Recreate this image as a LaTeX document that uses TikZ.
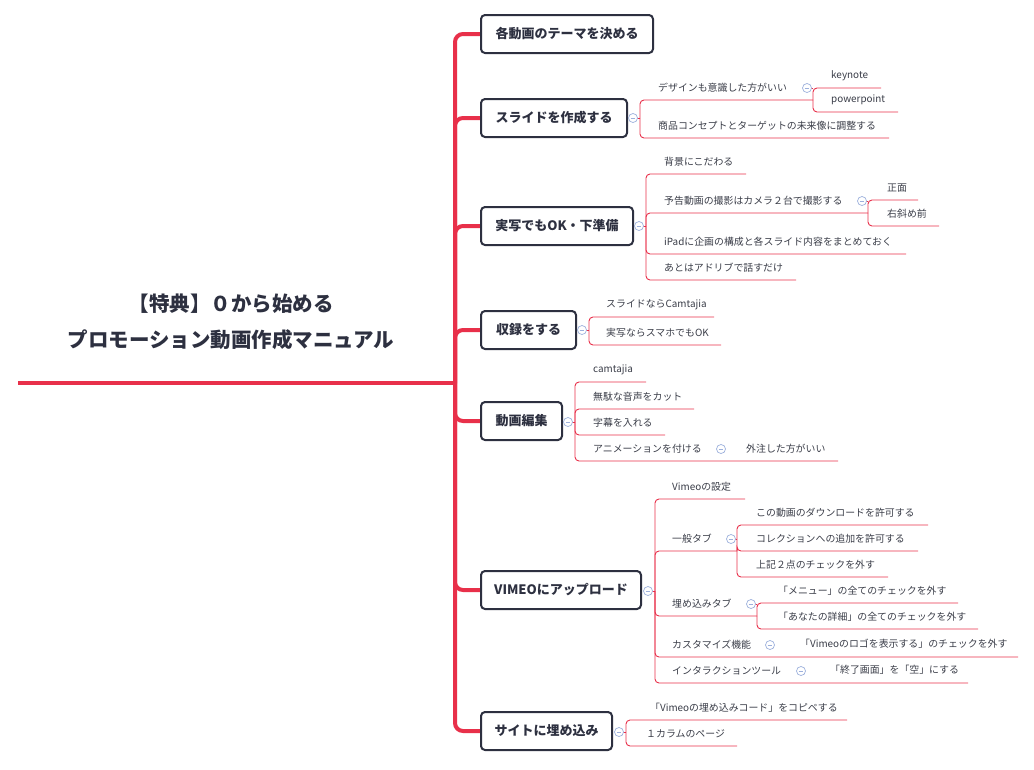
\documentclass[tikz,border=0pt]{standalone}
\usepackage{fontspec}
\setmainfont{Noto Sans CJK JP}
\definecolor{rd}{HTML}{E8304A}
\definecolor{bx}{HTML}{2D3040}
\definecolor{tx}{HTML}{3A3D48}
\definecolor{cb}{HTML}{9DB0DC}
\tikzset{
 br/.style={draw=rd,line width=0.9pt,rounded corners=4pt},
 lt/.style={text=tx,font=\fontsize{9.9}{10}\selectfont,inner sep=0pt},
 bxs/.style={draw=bx,line width=2pt,rounded corners=4pt,fill=white,text=bx,font=\fontsize{13}{14}\bfseries\selectfont,anchor=west,minimum height=38pt,inner xsep=0pt},
 cir/.style={circle,draw=cb,line width=0.7pt,fill=white,minimum size=9pt,inner sep=0pt,
   path picture={\draw[cb,line width=0.7pt] ([xshift=-2.3pt]path picture bounding box.center)--([xshift=2.3pt]path picture bounding box.center);}},
}
\newcommand\lf[7]{\draw[br] (#2,#3) |- (#6,#5); \node[lt,anchor=west] (#1) at (#4,#5-12) {#7};}
\newcommand\cc[4]{\draw[br] (#2,#3) -- (#4,#3); \node[cir] (#1) at (#2,#3) {};}
\newcommand\bxn[5]{\draw[rd,line width=4pt,rounded corners=8pt] (455,383) |- (480,#4); \node[bxs,minimum width=#3pt] (#1) at (480,#4) {#5};}
\begin{document}
\begin{tikzpicture}[x=1pt,y=-1pt]
\useasboundingbox (0,0) rectangle (1034,769);
\node[text=bx,font=\fontsize{20.5}{36}\bfseries\selectfont,align=center] (root) at (231,322) {【特典】０から始める\\プロモーション動画作成マニュアル};
\draw[rd,line width=4pt] (18,383) -- (455,383);
\bxn{b1}{}{172}{34}{\hfill 各動画のテーマを決める\hfill}
\bxn{b2}{}{146}{118}{\hfill スライドを作成する\hfill}
\bxn{b3}{}{152}{226}{\hfill 実写でもOK・下準備\hfill}
\bxn{b4}{}{95}{330}{\hfill 収録をする\hfill}
\bxn{b5}{}{81}{421}{\hfill 動画編集\hfill}
\bxn{b6}{}{160}{590}{\hfill VIMEOにアップロード\hfill}
\bxn{b7}{}{131}{731}{\hfill サイトに埋め込み\hfill}
% box2
\cc{c2}{633}{118}{640}
\lf{l21}{640}{118}{658}{100}{813}{デザインも意識した方がいい}
\lf{l22}{640}{118}{658}{138}{889}{商品コンセプトとターゲットの未来像に調整する}
\cc{c21}{807}{88}{813}
\lf{l211}{813}{100}{831}{88}{881}{keynote}
\lf{l212}{813}{100}{831}{112}{898}{powerpoint}
% box3
\cc{c3}{639}{226}{646}
\lf{l31}{646}{226}{664}{174}{746}{背景にこだわる}
\lf{l32}{646}{226}{664}{213}{868}{予告動画の撮影はカメラ２台で撮影する}
\lf{l33}{646}{226}{664}{254}{906}{iPadに企画の構成と各スライド内容をまとめておく}
\lf{l34}{646}{226}{664}{280}{796}{あとはアドリブで話すだけ}
\cc{c32}{862}{201}{868}
\lf{l321}{868}{213}{887}{200}{918}{正面}
\lf{l322}{868}{213}{887}{226}{939}{右斜め前}
% box4
\cc{c4}{582}{330}{589}
\lf{l41}{589}{330}{606}{317}{714}{スライドならCamtajia}
\lf{l42}{589}{330}{606}{345}{721}{実写ならスマホでもOK}
% box5
\cc{c5}{568}{422}{575}
\lf{l51}{575}{422}{593}{382}{646}{camtajia}
\lf{l52}{575}{422}{593}{409}{694}{無駄な音声をカット}
\lf{l53}{575}{422}{593}{435}{665}{字幕を入れる}
\lf{l54}{575}{422}{593}{461}{838}{アニメーションを付ける}
\node[lt,anchor=west] (l541) at (746,449) {外注した方がいい};
\node[cir] (c54) at (721,449) {};
% box6
\cc{c6}{648}{591}{655}
\lf{l61}{655}{591}{672}{499}{745}{Vimeoの設定}
\lf{l62}{655}{591}{672}{551}{737}{一般タブ}
\lf{l63}{655}{591}{672}{616}{757}{埋め込みタブ}
\lf{l64}{655}{591}{672}{657}{1018}{カスタマイズ機能}
\lf{l65}{655}{591}{672}{683}{968}{インタラクションツール}
\cc{c62}{731}{539}{737}
\lf{l621}{737}{551}{756}{525}{928}{この動画のダウンロードを許可する}
\lf{l622}{737}{551}{756}{551}{918}{コレクションへの追加を許可する}
\lf{l623}{737}{551}{756}{577}{888}{上記２点のチェックを外す}
\cc{c63}{751}{604}{757}
\lf{l631}{757}{616}{778}{603}{958}{「メニュー」の全てのチェックを外す}
\lf{l632}{757}{616}{778}{629}{978}{「あなたの詳細」の全てのチェックを外す}
\node[lt,anchor=west] (l641) at (800,644) {「Vimeoのロゴを表示する」のチェックを外す};
\node[cir] (c64) at (770,645) {};
\node[lt,anchor=west] (l651) at (830,670) {「終了画面」を「空」にする};
\node[cir] (c65) at (801,671) {};
% box7
\cc{c7}{619}{732}{626}
\lf{l71}{626}{732}{650}{720}{847}{「Vimeoの埋め込みコード」をコピペする}
\lf{l72}{626}{732}{646}{746}{737}{１カラムのページ}
\end{tikzpicture}
\end{document}
